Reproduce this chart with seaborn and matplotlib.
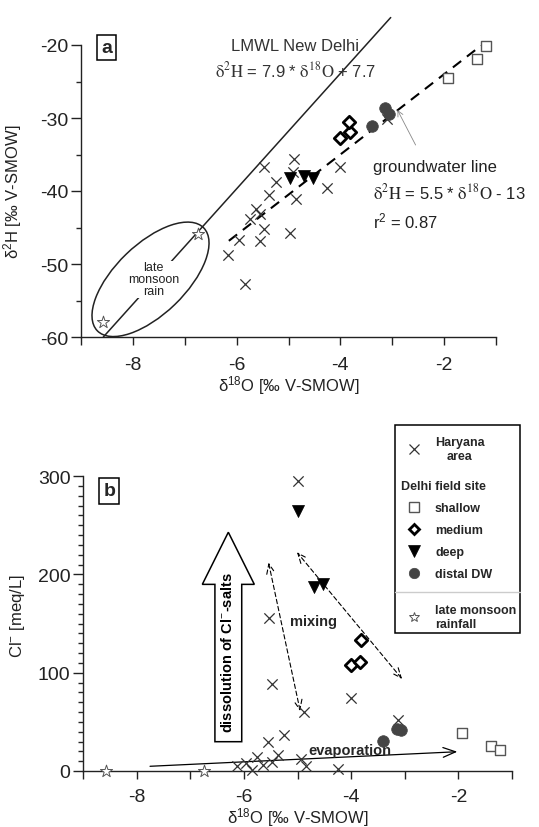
import matplotlib
matplotlib.use("Agg")
import matplotlib.pyplot as plt
import seaborn as sns
from matplotlib.patches import Ellipse, Rectangle
from matplotlib.lines import Line2D
from matplotlib import transforms
from matplotlib.ticker import MultipleLocator, FixedLocator

# ---- panel a: d2H vs d18O ----
har_a_o18 = [-6.16, -5.95, -5.83, -5.75, -5.62, -5.54, -5.48, -5.54, -5.37, -5.25,
             -4.98, -4.85, -4.26, -5.48, -4.89, -4.91, -4.00, -3.11]
har_a_h2 = [-48.8, -46.7, -52.7, -43.8, -42.4, -43.2, -45.2, -46.9, -40.6, -38.8,
            -45.7, -41.1, -39.6, -36.75, -35.6, -37.35, -36.75, -30.2]
shallow_a_o18 = [-1.92, -1.37, -1.20]
shallow_a_h2 = [-24.5, -21.9, -20.2]
medium_a_o18 = [-4.00, -3.82, -3.84]
medium_a_h2 = [-32.8, -31.9, -30.5]
deep_a_o18 = [-4.98, -4.70, -4.52]
deep_a_h2 = [-38.2, -37.9, -38.2]
distal_a_o18 = [-3.40, -3.14, -3.07]
distal_a_h2 = [-31.05, -28.6, -29.45]
rain_a_o18 = [-8.57, -6.75]
rain_a_h2 = [-58.0, -45.9]

# regression lines (slope, intercept, x range)
lmwl = (7.9, 7.7, [-8.57, -3.03])
gwl = (5.5, -13.0, [-6.15, -1.25])

# ---- panel b: Cl vs d18O ----
har_b_o18 = [-5.00, -5.54, -5.47, -4.00, -4.87, -3.12, -5.26, -5.55, -5.37, -5.75,
             -5.96, -6.13, -5.84, -5.64, -5.48, -4.94, -4.85, -4.24]
har_b_cl = [295, 156, 88, 74, 60, 52, 36.6, 29.2, 16.5, 14.5,
            8.5, 4.8, 1.0, 6.0, 8.8, 12.2, 4.8, 2.5]
shallow_b_o18 = [-1.94, -1.39, -1.22]
shallow_b_cl = [39, 25.5, 21.5]
medium_b_o18 = [-4.00, -3.83, -3.82]
medium_b_cl = [108, 111, 133]
deep_b_o18 = [-5.00, -4.70, -4.52]
deep_b_cl = [264, 187, 190]
distal_b_o18 = [-3.41, -3.15, -3.07]
distal_b_cl = [30.6, 43, 41.7]
rain_b_o18 = [-8.57, -6.74]
rain_b_cl = [0, 0]

sns.set_style("ticks")
plt.rcParams["font.family"] = ["Liberation Sans", "DejaVu Sans"]
plt.rcParams["mathtext.fontset"] = "custom"
plt.rcParams["mathtext.rm"] = "Liberation Sans"
plt.rcParams["mathtext.it"] = "Liberation Sans:italic"
plt.rcParams["mathtext.bf"] = "Liberation Sans:bold"
plt.rcParams["axes.unicode_minus"] = False

DARK = "#222222"
st = {
    "har": dict(marker="x", s=55, color="#333333", linewidth=0.9),
    "shallow": dict(marker="s", s=62, facecolor="white", edgecolor="#555555", linewidth=1.0),
    "medium": dict(marker="D", s=40, facecolor="white", edgecolor="black", linewidth=2.0),
    "deep": dict(marker="v", s=75, color="black", edgecolor="black", linewidth=0.5),
    "distal": dict(marker="o", s=70, color="#444444", edgecolor="#444444", linewidth=0.5),
    "rain": dict(marker="*", s=85, facecolor="white", edgecolor="#555555", linewidth=0.7),
}

fig = plt.figure(figsize=(5.39, 8.28), dpi=100)
W, H = 539, 828
ax_a = fig.add_axes([81 / W, 1 - 338 / H, 415 / W, 292 / H])
ax_b = fig.add_axes([83 / W, 1 - 772 / H, 429 / W, 295 / H])


def draw_points(ax, groups):
    for key, xs, ys in groups:
        sns.scatterplot(x=xs, y=ys, ax=ax, clip_on=False, zorder=4, legend=False, **st[key])


def style_axes(ax, xpad):
    sns.despine(ax=ax)
    for s in ["left", "bottom"]:
        ax.spines[s].set_linewidth(1.0)
        ax.spines[s].set_color(DARK)
    ax.set_xlim(-9, -1)
    ax.xaxis.set_major_locator(FixedLocator([-8, -6, -4, -2]))
    ax.xaxis.set_minor_locator(FixedLocator([-9, -7, -5, -3, -1]))
    ax.tick_params(axis="x", which="both", direction="out", length=6, width=1.0,
                   pad=xpad, labelsize=14, colors=DARK)
    ax.tick_params(axis="y", which="major", direction="out", length=7, width=1.0,
                   pad=2, labelsize=14, colors=DARK)
    ax.tick_params(axis="y", which="minor", direction="out", length=3.5, width=1.0)
    ax.set_xlabel(r"δ$^{18}$O [‰ V-SMOW]", fontsize=12, color=DARK)


# ---------------- panel a ----------------
lx = lmwl[2]
ax_a.plot(lx, [lmwl[0] * v + lmwl[1] for v in lx], color=DARK, lw=1.1, clip_on=False, zorder=2)
gx = gwl[2]
ax_a.plot(gx, [gwl[0] * v + gwl[1] for v in gx], color="black", lw=1.5,
          dashes=(5, 3.5), zorder=3)

ell_trans = fig.dpi_scale_trans + transforms.ScaledTranslation(-7.66, -52.1, ax_a.transData)
ax_a.add_patch(Ellipse((0, 0), 1.48, 0.70, angle=44, transform=ell_trans,
                       fill=False, ec=DARK, lw=1.1, clip_on=False))

draw_points(ax_a, [("har", har_a_o18, har_a_h2), ("shallow", shallow_a_o18, shallow_a_h2),
                   ("medium", medium_a_o18, medium_a_h2), ("deep", deep_a_o18, deep_a_h2),
                   ("distal", distal_a_o18, distal_a_h2), ("rain", rain_a_o18, rain_a_h2)])

ax_a.set_ylim(-60, -20)
ax_a.yaxis.set_major_locator(MultipleLocator(10))
ax_a.yaxis.set_minor_locator(MultipleLocator(5))
style_axes(ax_a, 8)
ax_a.set_ylabel(r"δ$^{2}$H [‰ V-SMOW]", fontsize=12, color=DARK)
ax_a.yaxis.set_label_coords(-0.138, 0.5)
ax_a.xaxis.set_label_coords(0.5, -0.125)

ax_a.text(-8.51, -20.34, "a", fontsize=14, fontweight="bold", ha="center", va="center",
          bbox=dict(boxstyle="square,pad=0.22", fc="white", ec="black", lw=1.1))
ax_a.text(-4.87, -20.1, "LMWL New Delhi", fontsize=12, color="#333333", ha="center", va="center")
ax_a.text(-4.87, -23.4, r"$\mathrm{\delta^{2}H}$ = 7.9 * $\mathrm{\delta^{18}O}$ + 7.7",
          fontsize=12, color="#333333", ha="center", va="center", math_fontfamily="stix")
ax_a.text(-3.38, -36.7, "groundwater line", fontsize=12, color=DARK, ha="left", va="center")
ax_a.text(-3.38, -40.1, r"$\mathrm{\delta^{2}H}$ = 5.5 * $\mathrm{\delta^{18}O}$ - 13",
          fontsize=12, color=DARK, ha="left", va="center", math_fontfamily="stix")
ax_a.text(-3.38, -44.1, r"r$^{2}$ = 0.87", fontsize=12, color=DARK, ha="left", va="center")
ax_a.annotate("", xy=(-2.9, -28.9), xytext=(-2.55, -33.7),
              arrowprops=dict(arrowstyle="->", color="#888888", lw=0.6, shrinkA=0, shrinkB=0))
ax_a.text(-7.60, -52.1, "late\nmonsoon\nrain", fontsize=9, color=DARK, ha="center",
          va="center", linespacing=1.0, zorder=3,
          bbox=dict(boxstyle="square,pad=0.05", fc="white", ec="none"))

# ---------------- panel b ----------------
ax_b.arrow(-6.29, 29.8, 0, 213, width=0.5, head_width=0.97, head_length=53,
           length_includes_head=True, fc="white", ec="black", lw=1.1, zorder=2)
ax_b.text(-6.31, 121, r"dissolution of Cl$^{-}$-salts", rotation=90, fontsize=10.5,
          fontweight="bold", ha="center", va="center", color="black", zorder=3)

for top, bottom in [((-5.54, 212), (-4.95, 61)), ((-5.01, 222.5), (-3.05, 93.6))]:
    ax_b.annotate("", xy=top, xytext=bottom,
                  arrowprops=dict(arrowstyle="<->,head_length=0.7,head_width=0.3",
                                  ls=(0, (4, 2.5)), lw=0.8, color="black",
                                  shrinkA=0, shrinkB=0))
ax_b.text(-4.70, 153, "mixing", fontsize=10.5, fontweight="bold", ha="center", va="center")
ax_b.annotate("", xy=(-2.02, 19.6), xytext=(-7.75, 4.8),
              arrowprops=dict(arrowstyle="->,head_length=0.9,head_width=0.35", lw=0.9,
                              color="black", shrinkA=0, shrinkB=0))
ax_b.text(-4.03, 21, "evaporation", fontsize=10.5, fontweight="bold", ha="center", va="center")

draw_points(ax_b, [("har", har_b_o18, har_b_cl), ("shallow", shallow_b_o18, shallow_b_cl),
                   ("medium", medium_b_o18, medium_b_cl), ("deep", deep_b_o18, deep_b_cl),
                   ("distal", distal_b_o18, distal_b_cl), ("rain", rain_b_o18, rain_b_cl)])

ax_b.set_ylim(0, 300)
ax_b.yaxis.set_major_locator(MultipleLocator(100))
ax_b.yaxis.set_minor_locator(MultipleLocator(10))
style_axes(ax_b, 6)
ax_b.set_ylabel(r"Cl$^{-}$ [meq/L]", fontsize=12, color=DARK)
ax_b.yaxis.set_label_coords(-0.130, 0.53)
ax_b.xaxis.set_label_coords(0.5, -0.117)
ax_b.text(-8.51, 284.8, "b", fontsize=14, fontweight="bold", ha="center", va="center",
          bbox=dict(boxstyle="square,pad=0.22", fc="white", ec="black", lw=1.1))

# ---------------- legend ----------------
fig.add_artist(Rectangle((395 / W, 1 - 634 / H), 125 / W, 208 / H, transform=fig.transFigure,
                         fc="white", ec="black", lw=1.1, zorder=4))
fig.add_artist(Line2D([395 / W, 520 / W], [1 - 593 / H] * 2, transform=fig.transFigure,
                      color="#cccccc", lw=1.0, zorder=4.5))


def handle(key, ms):
    s = st[key]
    base = s.get("color", "black")
    return Line2D([], [], ls="none", marker=s["marker"], markersize=ms,
                  markerfacecolor=s.get("facecolor", base),
                  markeredgecolor=s.get("edgecolor", base),
                  markeredgewidth=s["linewidth"], color=base)


bold9 = {"weight": "bold", "size": 9}
leg_kw = dict(loc="upper left", bbox_transform=fig.transFigure, frameon=False, borderpad=0,
              borderaxespad=0, handlelength=2.0, handletextpad=0.72, labelspacing=0.8,
              prop=bold9)
leg1 = fig.legend([handle("har", 6.5)], ["Haryana\narea"], bbox_to_anchor=(401 / W, 1 - 437 / H),
                  **leg_kw)
leg1.get_texts()[0].set_multialignment("center")
fig.legend([], [], title="Delhi field site", title_fontproperties=bold9, alignment="left",
           bbox_to_anchor=(401 / W, 1 - 481 / H), **leg_kw)
fig.legend([handle("shallow", 7), handle("medium", 5.5), handle("deep", 8),
            handle("distal", 7.5)],
           ["shallow", "medium", "deep", "distal DW"],
           bbox_to_anchor=(401 / W, 1 - 503 / H), **leg_kw)
fig.legend([handle("rain", 7.5)], ["late monsoon\nrainfall"],
           bbox_to_anchor=(401 / W, 1 - 605 / H), **leg_kw)

fig.savefig("out.png", dpi=100)
